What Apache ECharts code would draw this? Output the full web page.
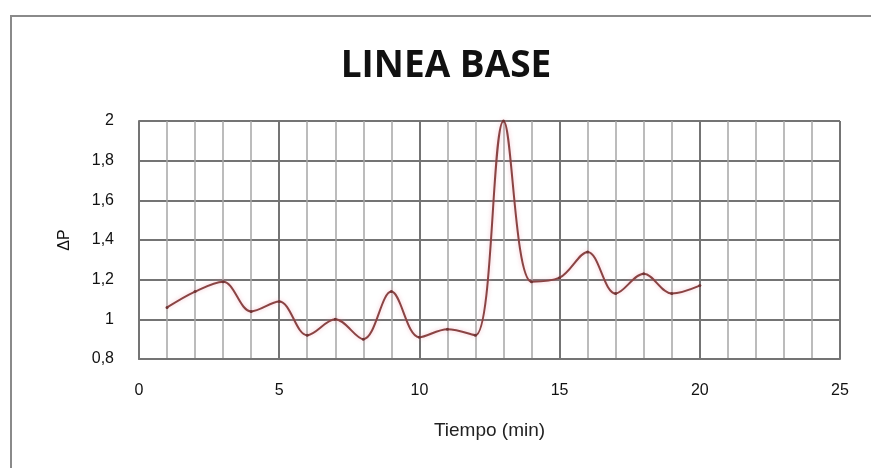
<!DOCTYPE html>
<html>
<head>
<meta charset="utf-8">
<script src="https://cdn.jsdelivr.net/npm/echarts@6/dist/echarts.min.js"></script>
<style>html,body{margin:0;padding:0;background:#fff;}#c{width:871px;height:468px;}</style>
</head>
<body>
<div id="c"></div>
<script>
const tiempo = [1,2,3,4,5,6,7,8,9,10,11,12,13,14,15,16,17,18,19,20];
const deltaP = [1.06,1.14,1.19,1.04,1.09,0.92,1.0,0.9,1.14,0.91,0.95,0.92,2.0,1.19,1.21,1.34,1.13,1.23,1.13,1.17];
const titleText = 'LINEA BASE';
const xName = 'Tiempo (min)';
const yName = 'ΔP';

const chart = echarts.init(document.getElementById('c'), null, {renderer:'canvas'});
const fmt = v => String(Math.round(v*10)/10).replace('.', ',');
chart.setOption({
  backgroundColor:'#fff',
  animation:false,
  graphic:[
    {type:'rect', shape:{x:11,y:16,width:900,height:500}, style:{fill:'none', stroke:'#8a8a8a', lineWidth:2}, z:-1},
    {type:'text', x:446, y:66, style:{text:titleText, textAlign:'center', textVerticalAlign:'middle',
      font:'bold 37px "Open Sans", sans-serif', fill:'#111'}}
  ],
  grid:{left:139, top:121, right:31, bottom:109, show:false},
  xAxis:{type:'value', min:0, max:25, interval:5,
    name:xName, nameLocation:'middle', nameGap:62,
    nameTextStyle:{fontFamily:'"Liberation Sans",sans-serif', fontSize:19, color:'#222'},
    axisLine:{show:true, lineStyle:{color:'#747474', width:2}}, axisTick:{show:false},
    axisLabel:{fontFamily:'"Liberation Sans",sans-serif', fontSize:16, color:'#111', margin:24},
    splitLine:{show:true, lineStyle:{color:'#747474', width:2}},
    minorTick:{show:false, splitNumber:5},
    minorSplitLine:{show:true, lineStyle:{color:'#a6a6a6', width:1.5}}},
  yAxis:{type:'value', min:0.8, max:2, interval:0.2,
    name:yName, nameLocation:'middle', nameGap:66, nameRotate:90,
    nameTextStyle:{fontFamily:'"Liberation Sans",sans-serif', fontSize:16, color:'#111'},
    axisLine:{show:true, lineStyle:{color:'#747474', width:2}}, axisTick:{show:false},
    axisLabel:{fontFamily:'"Liberation Sans",sans-serif', fontSize:16, color:'#111', margin:25, formatter:fmt},
    splitLine:{show:true, lineStyle:{color:'#747474', width:2}}},
  series:[{type:'line', data:tiempo.map((t,i)=>[t,deltaP[i]]), smooth:0.35,
    symbol:'circle', symbolSize:3, itemStyle:{color:'#6e3434'},
    lineStyle:{color:'#8a4444', width:2, shadowColor:'rgba(235,140,160,0.55)', shadowBlur:4},
    clip:false}]
});
</script>
</body>
</html>
